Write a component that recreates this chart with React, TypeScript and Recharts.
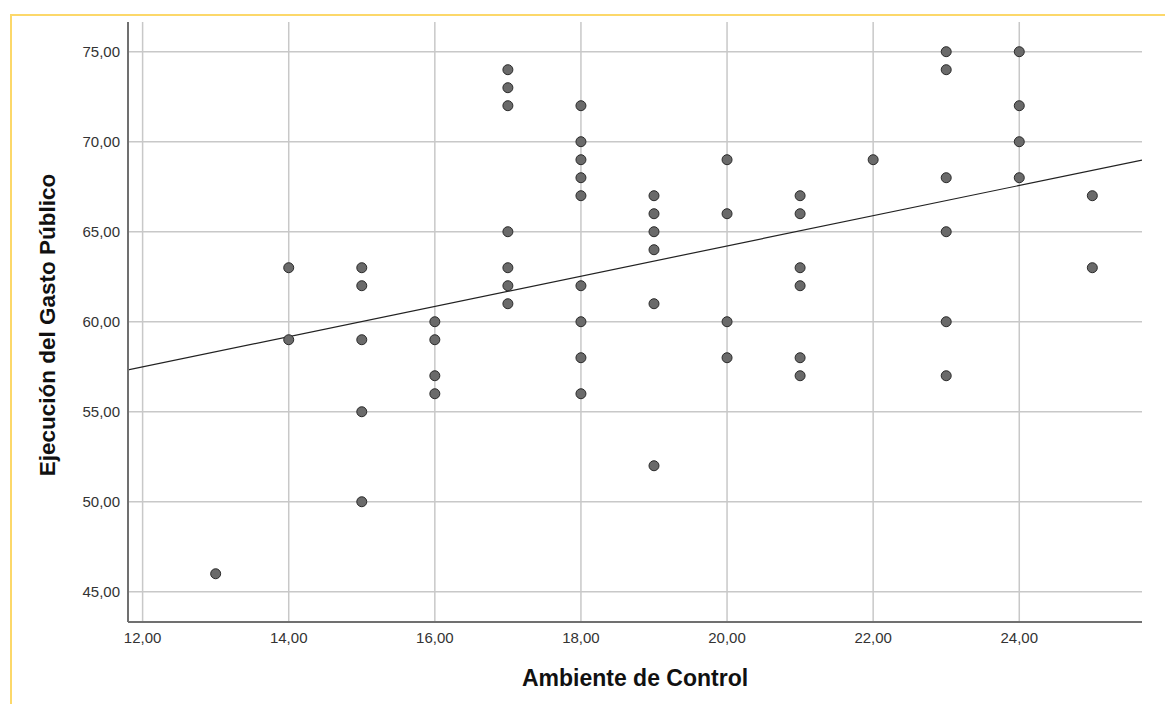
import { ScatterChart, Scatter, XAxis, YAxis, CartesianGrid, ReferenceLine } from "recharts"

// Ambiente de Control (x) and Ejecución del Gasto Público (y), paired by index
const ambienteControl = [
  13,
  14, 14,
  15, 15, 15, 15, 15,
  16, 16, 16, 16,
  17, 17, 17, 17, 17, 17, 17,
  18, 18, 18, 18, 18, 18, 18, 18, 18,
  19, 19, 19, 19, 19, 19,
  20, 20, 20, 20,
  21, 21, 21, 21, 21, 21,
  22,
  23, 23, 23, 23, 23, 23,
  24, 24, 24, 24,
  25, 25,
]
const ejecucionGasto = [
  46,
  63, 59,
  63, 62, 59, 55, 50,
  60, 59, 57, 56,
  74, 73, 72, 65, 63, 62, 61,
  72, 70, 69, 68, 67, 62, 60, 58, 56,
  67, 66, 65, 64, 61, 52,
  69, 66, 60, 58,
  67, 66, 63, 62, 58, 57,
  69,
  75, 74, 68, 65, 60, 57,
  75, 72, 70, 68,
  67, 63,
]

// fit line ends, read at the plot edges
const fitX = [11.8, 25.68]
const fitY = [57.32, 68.98]

const xTicks = [12, 14, 16, 18, 20, 22, 24]
const yTicks = [45, 50, 55, 60, 65, 70, 75]

const points = ambienteControl.map((x, i) => ({ x, y: ejecucionGasto[i] }))

const fmt = (v: number) => v.toFixed(2).replace(".", ",")
const font = "Liberation Sans, Arial, sans-serif"
const tickStyle = { fill: "#333", fontSize: 15, fontFamily: font }

const Dot = (props: any) => (
  <circle cx={props.cx} cy={props.cy} r={5} fill="#6a6a6a" stroke="#2a2a2a" strokeWidth={1} />
)

export default function App() {
  return (
    <div style={{ position: "relative", width: 1165, height: 704, overflow: "hidden", background: "#fff" }}>
      <style>{`body{margin:0;overflow:hidden}`}</style>
      <div
        style={{
          position: "absolute", left: 10, top: 14, width: 1300, height: 800,
          borderLeft: "2px solid #fcd86a", borderTop: "2px solid #fcd86a",
        }}
      />
      <div style={{ position: "absolute", left: 0, top: 0 }}>
        <ScatterChart width={1165} height={704} margin={{ top: 22, right: 23, bottom: 52, left: 58 }}>
          <CartesianGrid stroke="#c8c8c8" strokeWidth={1.5} horizontalValues={yTicks} verticalValues={xTicks} />
          <XAxis
            type="number"
            dataKey="x"
            domain={[11.8, 25.68]}
            ticks={xTicks}
            allowDataOverflow
            height={30}
            tickFormatter={fmt}
            tick={tickStyle}
            tickLine={false}
            tickSize={4}
            tickMargin={6}
            axisLine={{ stroke: "#707070", strokeWidth: 2 }}
            label={{
              content: ({ viewBox }: any) => (
                <text x={viewBox.x + viewBox.width / 2} y={viewBox.y + 64} textAnchor="middle"
                  style={{ fill: "#111", fontSize: 23, fontWeight: 700, fontFamily: font }}>
                  Ambiente de Control
                </text>
              ),
            }}
          />
          <YAxis
            type="number"
            dataKey="y"
            domain={[43.32, 76.65]}
            ticks={yTicks}
            allowDataOverflow
            width={70}
            tickFormatter={fmt}
            tick={tickStyle}
            tickLine={false}
            tickSize={4}
            tickMargin={4}
            axisLine={{ stroke: "#707070", strokeWidth: 2 }}
            label={{
              content: ({ viewBox }: any) => {
                const cx = viewBox.x - 11
                const cy = viewBox.y + viewBox.height / 2 + 3
                return (
                  <text x={cx} y={cy} textAnchor="middle" dominantBaseline="central" transform={`rotate(-90 ${cx} ${cy})`}
                    style={{ fill: "#111", fontSize: 22.5, fontWeight: 700, fontFamily: font }}>
                    Ejecución del Gasto Público
                  </text>
                )
              },
            }}
          />
          <ReferenceLine
            segment={[{ x: fitX[0], y: fitY[0] }, { x: fitX[1], y: fitY[1] }]}
            stroke="#222"
            strokeWidth={1.2}
            ifOverflow="hidden"
          />
          <Scatter data={points} shape={Dot} isAnimationActive={false} />
        </ScatterChart>
      </div>
    </div>
  )
}
